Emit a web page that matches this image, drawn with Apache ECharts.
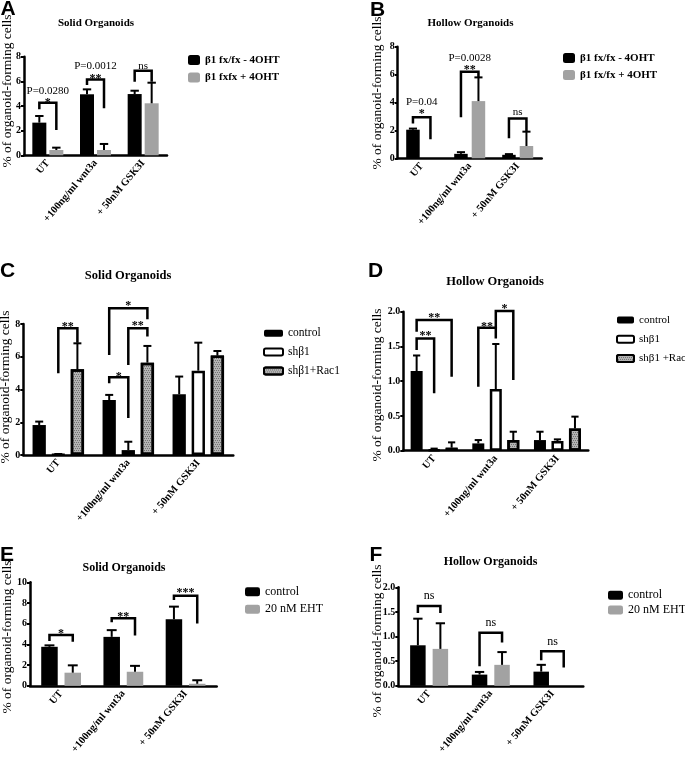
<!DOCTYPE html>
<html><head><meta charset="utf-8">
<script src="https://cdn.jsdelivr.net/npm/echarts@6/dist/echarts.min.js"></script>
<style>html,body{margin:0;padding:0;background:#fff}#c{width:685px;height:757px}</style>
</head><body><div id="c"></div>
<script>
// ---------- DATA ----------
const categories = ["UT", "+100ng/ml wnt3a", "+ 50nM GSK3I"];

// A: Solid organoids (beta1 flox)
const aMinus = [2.65, 4.95, 4.97];
const aMinusErr = [0.54, 0.40, 0.27];
const aPlus = [0.43, 0.43, 4.22];
const aPlusErr = [0.19, 0.49, 1.67];
// [group, leftBar, rightBar, top, leftEnd, rightEnd]
const aBrackets = [[0,0,1,4.27,3.73,2.05],[1,0,1,6.16,5.70,3.81],[2,0,1,6.86,5.97,5.97]];
// [group, leftBar, rightBar, y, text]
const aNotes = [[0,0,1,4.49,"*"],[0,0,1,5.24,"P=0.0280"],[1,0,1,6.43,"**"],[1,0,1,7.27,"P=0.0012"],[2,0,1,7.24,"ns"]];

// B: Hollow organoids (beta1 flox)
const bMinus = [2.05, 0.32, 0.25];
const bMinusErr = [0.08, 0.12, 0.05];
const bPlus = [0.0, 4.10, 0.88];
const bPlusErr = [0.0, 1.70, 1.03];
const bBrackets = [[0,0,1,2.94,2.50,1.36],[1,0,1,6.20,2.94,5.80],[2,0,1,2.86,1.43,1.90]];
const bNotes = [[0,0,1,3.41,"*"],[0,0,1,4.06,"P=0.04"],[1,0,1,6.57,"**"],[1,0,1,7.17,"P=0.0028"],[2,0,1,3.34,"ns"]];

// C: Solid organoids (shRNA)
const cControl = [1.83, 3.36, 3.71];
const cControlErr = [0.21, 0.31, 1.08];
const cSh = [0.02, 0.30, 5.15];
const cShErr = [0.04, 0.51, 1.71];
const cRac = [5.23, 5.64, 6.07];
const cRacErr = [1.59, 1.02, 0.28];
const cBrackets = [[0,1,2,7.74,4.99,6.86],[1,0,2,8.96,6.11,8.29],[1,1,2,7.74,5.50,7.23],[1,0,1,4.75,4.38,2.26]];
const cNotes = [[0,1,2,8.00,"**"],[1,0,2,9.26,"*"],[1,1,2,8.04,"**"],[1,0,1,4.95,"*"]];

// D: Hollow organoids (shRNA)
const dControl = [1.146, 0.105, 0.153];
const dControlErr = [0.224, 0.048, 0.120];
const dSh = [0.01, 0.887, 0.139];
const dShErr = [0.02, 0.648, 0.024];
const dRac = [0.043, 0.153, 0.320];
const dRacErr = [0.077, 0.120, 0.170];
const dBrackets = [[0,0,2,1.88,1.71,1.065],[0,0,1,1.616,1.45,0.825],[1,0,1,1.77,0.92,1.616],[1,1,2,2.01,1.77,1.017]];
const dNotes = [[0,0,2,1.96,"**"],[0,0,1,1.70,"**"],[1,0,1,1.83,"**"],[1,1,2,2.08,"*"]];

// E: Solid organoids (EHT)
const eControl = [3.77, 4.73, 6.43];
const eControlErr = [0.14, 0.65, 1.22];
const eEht = [1.27, 1.36, 0.20];
const eEhtErr = [0.71, 0.57, 0.34];
const eBrackets = [[0,0,1,4.90,4.33,4.25],[1,0,1,6.52,6.15,4.87],[2,0,1,8.70,8.30,6.03]];
const eNotes = [[0,0,1,5.29,"*"],[1,0,1,6.94,"**"],[2,0,1,9.26,"***"]];

// F: Hollow organoids (EHT)
const fControl = [0.823, 0.228, 0.288];
const fControlErr = [0.540, 0.054, 0.138];
const fEht = [0.750, 0.426, 0.0];
const fEhtErr = [0.520, 0.259, 0.0];
const fBrackets = [[0,0,1,1.62,1.48,1.48],[1,0,1,1.08,0.40,0.88],[2,0,1,0.70,0.52,0.37]];
const fNotes = [[0,0,1,1.83,"ns"],[1,0,1,1.28,"ns"],[2,0,1,0.90,"ns"]];

// ---------- LAYOUT / STYLE ----------
const SERIF = '"Liberation Serif", "Times New Roman", serif';
const SANS = '"Liberation Sans", Arial, sans-serif';
const styles = {
  black: {color:'#000'},
  gray: {color:'#a2a2a2'},
  white: {color:'#fff', borderColor:'#000', borderWidth:2.5},
  pattern: {color:'#b4b4b4', borderColor:'#000', borderWidth:2.5,
    decal:{symbol:'rect', symbolSize:1, color:'rgba(60,60,60,0.55)', dashArrayX:[[1,1],[0,1,1,0]], dashArrayY:[1,1]}}
};
const layout = [
  {grid:{left:24, top:56.7, width:143, height:98.6}, max:8, interval:2, bw:14, gap:3, dec:0},
  {grid:{left:397.7, top:46.7, width:144, height:111.6}, max:8, interval:2, bw:13.5, gap:4, dec:0},
  {grid:{left:23.3, top:324, width:210, height:131}, max:8, interval:2, bw:13.3, gap:5.8, dec:0},
  {grid:{left:403.3, top:311.7, width:185, height:139}, max:2, interval:0.5, bw:12, gap:5.5, dec:1},
  {grid:{left:30, top:582.3, width:186.7, height:117.7}, max:10, interval:2, bw:16.5, gap:6.8, dec:0},
  {grid:{left:398.3, top:587.3, width:185, height:111}, max:2, interval:0.5, bw:15.5, gap:7, dec:1}
];
const panels = [
  {groups:[{name:'β1 fx/fx - 4OHT', v:aMinus, e:aMinusErr, s:'black'},{name:'β1 fxfx + 4OHT', v:aPlus, e:aPlusErr, s:'gray'}], br:aBrackets, notes:aNotes},
  {groups:[{name:'β1 fx/fx - 4OHT', v:bMinus, e:bMinusErr, s:'black'},{name:'β1 fx/fx + 4OHT', v:bPlus, e:bPlusErr, s:'gray'}], br:bBrackets, notes:bNotes},
  {groups:[{name:'control', v:cControl, e:cControlErr, s:'black'},{name:'shβ1', v:cSh, e:cShErr, s:'white'},{name:'shβ1+Rac1', v:cRac, e:cRacErr, s:'pattern'}], br:cBrackets, notes:cNotes},
  {groups:[{name:'control', v:dControl, e:dControlErr, s:'black'},{name:'shβ1', v:dSh, e:dShErr, s:'white'},{name:'shβ1 +Rac1', v:dRac, e:dRacErr, s:'pattern'}], br:dBrackets, notes:dNotes},
  {groups:[{name:'control', v:eControl, e:eControlErr, s:'black'},{name:'20 nM EHT', v:eEht, e:eEhtErr, s:'gray'}], br:eBrackets, notes:eNotes},
  {groups:[{name:'control', v:fControl, e:fControlErr, s:'black'},{name:'20 nM EHT', v:fEht, e:fEhtErr, s:'gray'}], br:fBrackets, notes:fNotes}
];
const legends = [
  {left:188, top:53, w:12, h:10, gap:3.5, font:11, bold:true},
  {left:563, top:51, w:12, h:10, gap:3, font:11, bold:true},
  {left:263, top:326.3, w:19, h:7, gap:4.8, font:11.5, bold:false},
  {left:616, top:313, w:17, h:7, gap:5.2, font:11, bold:false},
  {left:245, top:584.7, w:15, h:9, gap:3.6, font:12, bold:false},
  {left:608, top:588.3, w:15, h:9, gap:0.7, font:12, bold:false}
];
const titles = [
  {t:'Solid Organoids', x:96, y:23.5, f:11},
  {t:'Hollow Organoids', x:470.5, y:23, f:11},
  {t:'Solid Organoids', x:128, y:276, f:12.5},
  {t:'Hollow Organoids', x:495, y:282, f:12.5},
  {t:'Solid Organoids', x:124, y:567.5, f:12},
  {t:'Hollow Organoids', x:490.5, y:562, f:12}
];
const letters = [['A',8,9],['B',377.5,10],['C',7.5,271],['D',375.5,271.5],['E',7,555.5],['F',376,555.5]];
const yTitles = [[7,91],[377,93],[5,387],[377,385],[7,637],[377,641]];

function barOffset(L, n, i){
  const total = n*L.bw + (n-1)*L.gap;
  return -total/2 + L.bw/2 + i*(L.bw + L.gap);
}

const grids = [], xAxes = [], yAxes = [], series = [], legendList = [], graphic = [];
panels.forEach((P, p) => {
  const L = layout[p];
  const n = P.groups.length;
  grids.push(Object.assign({containLabel:false}, L.grid));
  xAxes.push({gridIndex:p, type:'category', data:categories,
    axisLine:{lineStyle:{color:'#000', width:2.5}},
    axisTick:{alignWithLabel:true, length:3, lineStyle:{color:'#000', width:2}},
    axisLabel:{interval:0, rotate:50, margin:6, color:'#000', fontFamily:SERIF, fontWeight:'bold', fontSize:10.5}});
  yAxes.push({gridIndex:p, type:'value', min:0, max:L.max, interval:L.interval,
    splitLine:{show:false},
    axisLine:{show:true, lineStyle:{color:'#000', width:2.5}},
    axisTick:{show:true, length:3, lineStyle:{color:'#000', width:2}},
    axisLabel:{margin:3, color:'#000', fontFamily:SERIF, fontWeight:'bold', fontSize:10,
      formatter: v => v.toFixed(L.dec)}});
  P.groups.forEach((g, si) => {
    series.push({type:'bar', name:g.name, xAxisIndex:p, yAxisIndex:p, data:g.v,
      barWidth:L.bw, barGap:(L.gap/L.bw*100)+'%', itemStyle:styles[g.s], z:2, silent:true});
    const off = barOffset(L, n, si);
    series.push({type:'custom', xAxisIndex:p, yAxisIndex:p, z:5, silent:true,
      data:g.v.map((v,k)=>[k, v, v + g.e[k]]), encode:{x:0, y:[1,2]},
      renderItem(params, api){
        const k = api.value(0), v = api.value(1), e = api.value(2);
        if (!(e > v + 1e-9)) return null;
        const a = api.coord([k, v]), b = api.coord([k, e]);
        const x = a[0] + off, cap = L.bw*0.3;
        return {type:'group', children:[
          {type:'line', shape:{x1:x, y1:a[1], x2:x, y2:b[1]}, style:{stroke:'#000', lineWidth:2}},
          {type:'line', shape:{x1:x-cap, y1:b[1], x2:x+cap, y2:b[1]}, style:{stroke:'#000', lineWidth:2}}
        ]};
      }});
  });
  const br = P.br;
  series.push({type:'custom', xAxisIndex:p, yAxisIndex:p, z:6, silent:true, clip:false,
    data:br.map(b=>[b[0], b[3]]), encode:{x:0, y:1},
    renderItem(params, api){
      const b = br[params.dataIndex];
      const base = api.coord([b[0], 0]);
      const x1 = base[0] + barOffset(L, n, b[1]), x2 = base[0] + barOffset(L, n, b[2]);
      const yt = api.coord([b[0], b[3]])[1], yl = api.coord([b[0], b[4]])[1], yr = api.coord([b[0], b[5]])[1];
      return {type:'polyline', shape:{points:[[x1,yl],[x1,yt],[x2,yt],[x2,yr]]},
        style:{stroke:'#000', lineWidth:2.5, fill:null, lineJoin:'miter'}};
    }});
  const notes = P.notes;
  series.push({type:'custom', xAxisIndex:p, yAxisIndex:p, z:7, silent:true, clip:false,
    data:notes.map(t=>[t[0], t[3]]), encode:{x:0, y:1},
    renderItem(params, api){
      const t = notes[params.dataIndex];
      const base = api.coord([t[0], t[3]]);
      const x = base[0] + (barOffset(L, n, t[1]) + barOffset(L, n, t[2]))/2;
      const star = t[4].indexOf('*') >= 0;
      const isP = t[4].indexOf('P=') === 0;
      const font = star ? 'bold 12px ' + SERIF : (isP ? '11px ' + SERIF : (p >= 4 ? '12px ' : '11px ') + SERIF);
      return {type:'text', x:x, y:base[1] + (star ? 3 : 0),
        style:{text:t[4], font:font, fill:'#000', align:'center', verticalAlign:'middle'}};
    }});
  const lg = legends[p];
  legendList.push({data:P.groups.map(g=>g.name), orient:'vertical', left:lg.left, top:lg.top,
    itemWidth:lg.w, itemHeight:lg.h, itemGap:lg.gap, icon:'roundRect', selectedMode:false, padding:0,
    textStyle:{fontFamily:SERIF, fontSize:lg.font, fontWeight:lg.bold?'bold':'normal', color:'#000', lineHeight:14}});
  const T = titles[p];
  graphic.push({type:'text', x:T.x, y:T.y, style:{text:T.t, font:'bold '+T.f+'px '+SERIF, fill:'#000', align:'center', verticalAlign:'middle'}});
  graphic.push({type:'text', x:letters[p][1], y:letters[p][2], style:{text:letters[p][0], font:'bold 21px '+SANS, fill:'#000', align:'center', verticalAlign:'middle'}});
  graphic.push({type:'text', x:yTitles[p][0], y:yTitles[p][1], rotation:Math.PI/2,
    style:{text:'% of organoid-forming cells', font:'13.5px '+SERIF, fill:'#000', align:'center', verticalAlign:'middle'}});
});

const chart = echarts.init(document.getElementById('c'), null, {renderer:'canvas'});
chart.setOption({
  backgroundColor:'#fff', animation:false,
  grid:grids, xAxis:xAxes, yAxis:yAxes, series:series, legend:legendList, graphic:graphic
});
</script></body></html>
